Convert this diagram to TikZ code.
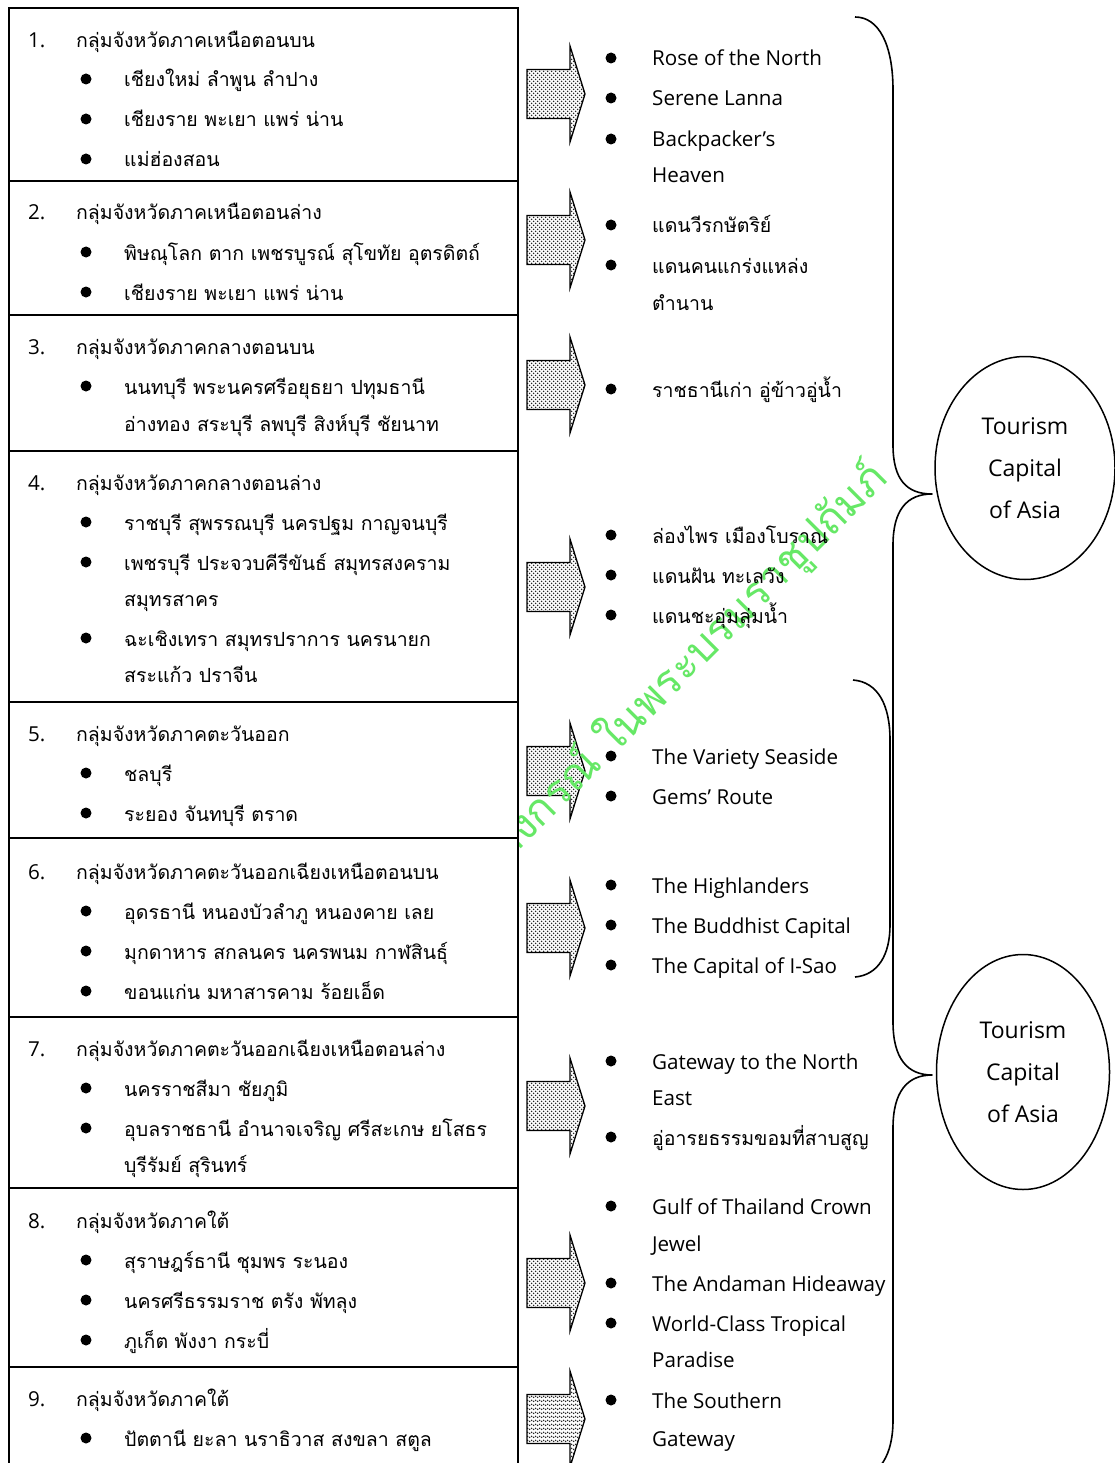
\documentclass[tikz,border=0pt]{standalone}
\usepackage{fontspec}
\setmainfont{Open Sans}
\newfontfamily\thai[Script=Thai]{Loma}
\usetikzlibrary{patterns.meta,shapes.geometric}
\definecolor{wmgreen}{RGB}{102,232,102}

\tikzset{
  th/.style={anchor=base west, inner sep=0pt, font=\thai\fontsize{19.5}{19.5}\selectfont},
  lat/.style={anchor=base west, inner sep=0pt, font=\fontsize{20.6}{20.6}\selectfont},
  cell/.style={draw, fill=white, line width=1.8pt},
  arrowbox/.style={draw, line width=1.3pt,
    preaction={pattern={Dots[distance=4pt, radius=0.95pt]}, pattern color=black!85},
    pattern={Dots[distance=4pt, radius=0.95pt, xshift=2pt, yshift=2pt]}, pattern color=black!85},
  brace/.style={draw, line width=1.6pt, line join=round},
  capital/.style={ellipse, draw, line width=1.5pt, align=center,
    font=\fontsize{23}{42}\selectfont},
  dot/.style={fill=black},
}

% block arrow centred on a given height
\newcommand\blockarrow[1]{%
  \draw[arrowbox] (527,#1-24.5) -- (570,#1-24.5) -- (570,#1-48) -- (585,#1)
    -- (570,#1+48) -- (570,#1+24.5) -- (527,#1+24.5) -- cycle;}

\begin{document}
\begin{tikzpicture}[x=1pt,y=-1pt]
\useasboundingbox (0,0) rectangle (1115,1463);
\fill[white] (0,0) rectangle (1115,1463);

% ---------- arrows ----------
\foreach \yy in {94,240,385,587,771,928,1106,1283,1419}{\blockarrow{\yy}}

% ---------- watermark ----------
\node[anchor=base east, inner sep=0pt, rotate=45, text=wmgreen,
      font=\thai\fontsize{43}{43}\selectfont] (wm) at (890,480)
      {มหาวิทยาลัยราชภัฏวไลยอลงกรณ์ ในพระบรมราชูปถัมภ์};

% ---------- table of provincial groups ----------
\draw[cell] (9,8) rectangle (518,181);
\draw[cell] (9,181) rectangle (518,315);
\draw[cell] (9,315) rectangle (518,451);
\draw[cell] (9,451) rectangle (518,702);
\draw[cell] (9,702) rectangle (518,838);
\draw[cell] (9,838) rectangle (518,1017);
\draw[cell] (9,1017) rectangle (518,1188);
\draw[cell] (9,1188) rectangle (518,1367);
\draw[cell] (9,1367) rectangle (518,1480);

% left bullets
\foreach \yy in {79,119,159,252,292,386,522,562,638,773,813,911,951,991,1088,1128,1260,1300,1340,1438}
  {\fill[dot] (86,\yy) circle (5.5);}

% group 1
\node[lat] (n1) at (28,48) {1.};
\node[th] (g1) at (76,48) {กลุ่มจังหวัดภาคเหนือตอนบน};
\node[th] (g1a) at (124,87) {เชียงใหม่ ลำพูน ลำปาง};
\node[th] (g1b) at (124,127) {เชียงราย พะเยา แพร่ น่าน};
\node[th] (g1c) at (124,167) {แม่ฮ่องสอน};
% group 2
\node[lat] (n2) at (28,220) {2.};
\node[th] (g2) at (76,220) {กลุ่มจังหวัดภาคเหนือตอนล่าง};
\node[th] (g2a) at (124,260) {พิษณุโลก ตาก เพชรบูรณ์ สุโขทัย อุตรดิตถ์};
\node[th] (g2b) at (124,300) {เชียงราย พะเยา แพร่ น่าน};
% group 3
\node[lat] (n3) at (28,354) {3.};
\node[th] (g3) at (76,354) {กลุ่มจังหวัดภาคกลางตอนบน};
\node[th] (g3a) at (124,394) {นนทบุรี พระนครศรีอยุธยา ปทุมธานี};
\node[th] (g3b) at (124,431) {อ่างทอง สระบุรี ลพบุรี สิงห์บุรี ชัยนาท};
% group 4
\node[lat] (n4) at (28,490) {4.};
\node[th] (g4) at (76,490) {กลุ่มจังหวัดภาคกลางตอนล่าง};
\node[th] (g4a) at (124,530) {ราชบุรี สุพรรณบุรี นครปฐม กาญจนบุรี};
\node[th] (g4b) at (124,570) {เพชรบุรี ประจวบคีรีขันธ์ สมุทรสงคราม};
\node[th] (g4c) at (124,606) {สมุทรสาคร};
\node[th] (g4d) at (124,646) {ฉะเชิงเทรา สมุทรปราการ นครนายก};
\node[th] (g4e) at (124,682) {สระแก้ว ปราจีน};
% group 5
\node[lat] (n5) at (28,741) {5.};
\node[th] (g5) at (76,741) {กลุ่มจังหวัดภาคตะวันออก};
\node[th] (g5a) at (124,781) {ชลบุรี};
\node[th] (g5b) at (124,821) {ระยอง จันทบุรี ตราด};
% group 6
\node[lat] (n6) at (28,879) {6.};
\node[th] (g6) at (76,879) {กลุ่มจังหวัดภาคตะวันออกเฉียงเหนือตอนบน};
\node[th] (g6a) at (124,919) {อุดรธานี หนองบัวลำภู หนองคาย เลย};
\node[th] (g6b) at (124,959) {มุกดาหาร สกลนคร นครพนม กาฬสินธุ์};
\node[th] (g6c) at (124,999) {ขอนแก่น มหาสารคาม ร้อยเอ็ด};
% group 7
\node[lat] (n7) at (28,1056) {7.};
\node[th] (g7) at (76,1056) {กลุ่มจังหวัดภาคตะวันออกเฉียงเหนือตอนล่าง};
\node[th] (g7a) at (124,1096) {นครราชสีมา ชัยภูมิ};
\node[th] (g7b) at (124,1136) {อุบลราชธานี อำนาจเจริญ ศรีสะเกษ ยโสธร};
\node[th] (g7c) at (124,1172) {บุรีรัมย์ สุรินทร์};
% group 8
\node[lat] (n8) at (28,1228) {8.};
\node[th] (g8) at (76,1228) {กลุ่มจังหวัดภาคใต้};
\node[th] (g8a) at (124,1268) {สุราษฎร์ธานี ชุมพร ระนอง};
\node[th] (g8b) at (124,1308) {นครศรีธรรมราช ตรัง พัทลุง};
\node[th] (g8c) at (124,1348) {ภูเก็ต พังงา กระบี่};
% group 9
\node[lat] (n9) at (28,1406) {9.};
\node[th] (g9) at (76,1406) {กลุ่มจังหวัดภาคใต้};
\node[th] (g9a) at (124,1446) {ปัตตานี ยะลา นราธิวาส สงขลา สตูล};

% ---------- tourism positioning ----------
\foreach \yy in {58,98,139,225,265,389,535,575,615,756,796,885,925,965,1061,1137,1206,1283,1323,1400}
  {\fill[dot] (611,\yy) circle (5.5);}

\node[lat] (p1) at (652,66) {Rose of the North};
\node[lat] (p2) at (652,106) {Serene Lanna};
\node[lat] (p3) at (652,147) {Backpacker’s};
\node[lat] (p3b) at (652,183) {Heaven};
\node[th] (p4) at (652,233) {แดนวีรกษัตริย์};
\node[th] (p5) at (652,273) {แดนคนแกร่งแหล่ง};
\node[th] (p5b) at (652,310) {ตำนาน};
\node[th] (p6) at (652,397) {ราชธานีเก่า อู่ข้าวอู่น้ำ};
\node[th] (p7) at (652,543) {ล่องไพร เมืองโบราณ};
\node[th] (p8) at (652,583) {แดนฝัน ทะเลวัง};
\node[th] (p9) at (652,623) {แดนชะอุ่มลุ่มน้ำ};
\node[lat] (p10) at (652,764) {The Variety Seaside};
\node[lat] (p11) at (652,804) {Gems’ Route};
\node[lat] (p12) at (652,893) {The Highlanders};
\node[lat] (p13) at (652,933) {The Buddhist Capital};
\node[lat] (p14) at (652,973) {The Capital of I-Sao};
\node[lat] (p15) at (652,1069) {Gateway to the North};
\node[lat] (p15b) at (652,1105) {East};
\node[th] (p16) at (652,1145) {อู่อารยธรรมขอมที่สาบสูญ};
\node[lat] (p17) at (652,1214) {Gulf of Thailand Crown};
\node[lat] (p17b) at (652,1251) {Jewel};
\node[lat] (p18) at (652,1291) {The Andaman Hideaway};
\node[lat] (p19) at (652,1331) {World-Class Tropical};
\node[lat] (p19b) at (652,1367) {Paradise};
\node[lat] (p20) at (652,1408) {The Southern};
\node[lat] (p20b) at (652,1446) {Gateway};

% ---------- the two capitals ----------
\node[capital, minimum width=180pt, minimum height=223pt] (e1) at (1025,468)
  {Tourism\\Capital\\of Asia};
\node[capital, minimum width=173pt, minimum height=235pt] (e2) at (1023,1072)
  {Tourism\\Capital\\of Asia};
\coordinate (t1) at (932,494);
\coordinate (t2) at (932,1075);

% braces gathering the groups
\draw[brace] (855,17) .. controls (879,17) and (893,45) .. (893,90)
  -- (893,445) .. controls (893,480) and (907,494) .. (t1)
  .. controls (907,494) and (893,510) .. (893,545)
  -- (893,1022) .. controls (893,1058) and (907,1075) .. (t2)
  .. controls (907,1075) and (893,1092) .. (893,1128)
  -- (893,1420) .. controls (893,1455) and (880,1476) .. (855,1480);
\draw[brace] (853,680) .. controls (878,682) and (890,705) .. (890,740)
  -- (890,925) .. controls (890,955) and (878,975) .. (855,977);
\end{tikzpicture}
\end{document}
